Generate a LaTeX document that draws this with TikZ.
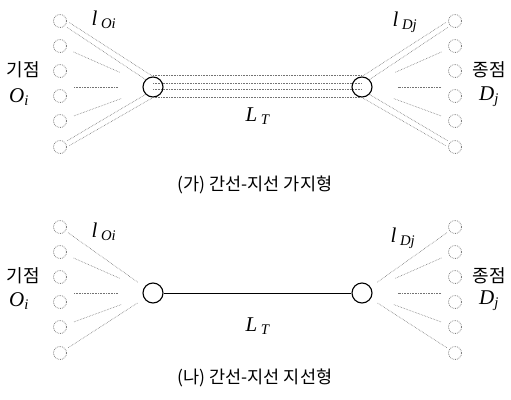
\documentclass[tikz,border=0pt]{standalone}
\usepackage{fontspec}
\setmainfont{Liberation Serif}
\newfontfamily\kor{Noto Sans CJK KR}
\usetikzlibrary{positioning}

\begin{document}
\begin{tikzpicture}[x=1pt,y=-1pt,
    orig/.style={circle,draw=black!50,densely dotted,thick,minimum size=13pt,inner sep=0pt},
    hub/.style={circle,draw=black,line width=1.1pt,minimum size=20pt,inner sep=0pt},
    fan/.style={black!55,densely dotted,semithick},
    kortext/.style={font=\kor\fontsize{18}{20}\selectfont},
    captext/.style={font=\kor\fontsize{17.5}{20}\selectfont},
    lab/.style={font=\fontsize{21}{23}\selectfont}]
\useasboundingbox (0,0) rectangle (511,399);
% (ga) branch type
\begin{scope}
\foreach \i/\y in {1/21,2/46,3/71,4/96,5/121,6/147} {
    \node[orig] (oa\i) at (60,\y) {};
    \node[orig] (da\i) at (455,\y) {};
}
\node[hub] (ha) at (153,87) {};
\node[hub] (hb) at (362,87) {};
\coordinate (ma) at (oa3 |- ha);
\coordinate (na) at (da3 |- hb);
% origin fan
\draw[fan, shorten <=3pt] (oa1.east) -- (ha.north);
\draw[fan, shorten <=3pt] (oa1.south east) -- (ha.north west);
\draw[fan, shorten <=8pt, shorten >=26pt] (oa2) -- (ha);
\draw[fan, shorten <=14pt, shorten >=25pt] (ma) -- (ha);
\draw[fan, shorten <=8pt, shorten >=23pt] (oa5) -- (ha);
\draw[fan, shorten <=3pt] (oa6.east) -- (ha.south);
\draw[fan, shorten <=3pt] (oa6.north east) -- (ha.south west);
% destination fan
\draw[fan, shorten <=3pt] (da1.west) -- (hb.north);
\draw[fan, shorten <=3pt] (da1.south west) -- (hb.north east);
\draw[fan, shorten <=8pt, shorten >=26pt] (da2) -- (hb);
\draw[fan, shorten <=14pt, shorten >=25pt] (na) -- (hb);
\draw[fan, shorten <=8pt, shorten >=23pt] (da5) -- (hb);
\draw[fan, shorten <=3pt] (da6.west) -- (hb.south);
\draw[fan, shorten <=3pt] (da6.north west) -- (hb.south east);
% trunk
\foreach \dy in {12,4,-2,-10}
    \draw[fan] ([yshift=\dy pt]ha.center) -- ([yshift=\dy pt]hb.center);
\node[kortext] (ka) at (23,70) {기점};
\node[lab] (oi) at (19,97) {\textit{O}\textsubscript{\textit{i}}};
\node[kortext] (kb) at (489,70) {종점};
\node[lab] (dj) at (489,97) {\textit{D}\textsubscript{\textit{j}}};
\node[lab] (la) at (104,20) {\textit{l}\,\textsubscript{\textit{Oi}}};
\node[lab] (lb) at (405,22) {\textit{l}\,\textsubscript{\textit{Dj}}};
\node[lab] (lt) at (258,116) {\textit{L}\,\textsubscript{\textit{T}}};
\node[captext] (cap1) at (255,185) {(가) 간선-지선 가지형};
\end{scope}
% (na) trunk line type
\begin{scope}[yshift=-206pt]
\foreach \i/\y in {1/21,2/46,3/71,4/96,5/121,6/147} {
    \node[orig] (ob\i) at (60,\y) {};
    \node[orig] (db\i) at (455,\y) {};
}
\node[hub] (hc) at (153,87) {};
\node[hub] (hd) at (362,87) {};
\coordinate (mb) at (ob3 |- hc);
\coordinate (nb) at (db3 |- hd);
% origin fan
\draw[fan, shorten <=3pt, shorten >=8pt] (ob1) -- (hc);
\draw[fan, shorten <=8pt, shorten >=26pt] (ob2) -- (hc);
\draw[fan, shorten <=14pt, shorten >=25pt] (mb) -- (hc);
\draw[fan, shorten <=8pt, shorten >=23pt] (ob5) -- (hc);
\draw[fan, shorten <=3pt, shorten >=8pt] (ob6) -- (hc);
% destination fan
\draw[fan, shorten <=3pt, shorten >=8pt] (db1) -- (hd);
\draw[fan, shorten <=8pt, shorten >=26pt] (db2) -- (hd);
\draw[fan, shorten <=14pt, shorten >=25pt] (nb) -- (hd);
\draw[fan, shorten <=8pt, shorten >=23pt] (db5) -- (hd);
\draw[fan, shorten <=3pt, shorten >=8pt] (db6) -- (hd);
% trunk
\draw[line width=.9pt] (hc) -- (hd);
\node[kortext] (kc) at (23,70) {기점};
\node[lab] (oj) at (19,95) {\textit{O}\textsubscript{\textit{i}}};
\node[kortext] (kd) at (489,70) {종점};
\node[lab] (dk) at (489,95) {\textit{D}\textsubscript{\textit{j}}};
\node[lab] (lc) at (104,26) {\textit{l}\,\textsubscript{\textit{Oi}}};
\node[lab] (ld) at (403,32) {\textit{l}\,\textsubscript{\textit{Dj}}};
\node[lab] (lu) at (258,120) {\textit{L}\,\textsubscript{\textit{T}}};
\node[captext] (cap2) at (255,172) {(나) 간선-지선 지선형};
\end{scope}
\end{tikzpicture}
\end{document}
